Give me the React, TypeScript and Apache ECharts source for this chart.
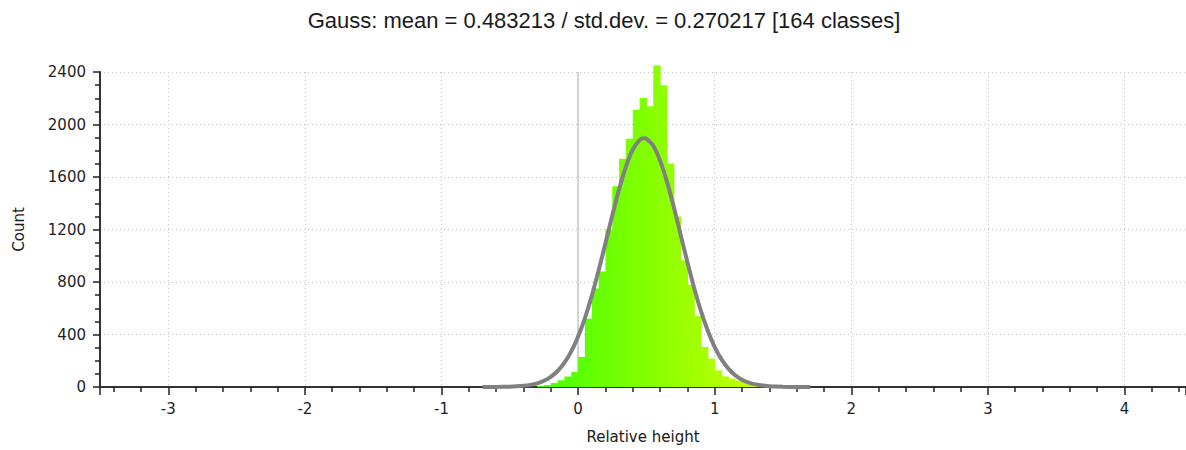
import React, { useEffect, useRef } from "react";
import * as echarts from "echarts";

// ---- data ----
const TITLE = "Gauss: mean = 0.483213 / std.dev. = 0.270217 [164 classes]";
const X_NAME = "Relative height";
const Y_NAME = "Count";

// histogram classes: width and left edge of the first non-empty class
const BIN_WIDTH = 0.05;
const BIN_START = -0.3;
const BIN_COUNTS = [
  8, 15, 30, 51, 80, 114, 229, 521, 750, 880, 1200, 1529, 1740, 1892, 2113,
  2202, 2140, 2450, 2299, 1702, 1300, 965, 780, 540, 305, 216, 127, 81, 64,
  51, 38, 26, 18, 14, 10, 8, 6, 4, 2,
];

// fitted Gauss curve
const GAUSS_X = [
  -0.7, -0.6, -0.5, -0.45, -0.4, -0.35, -0.3, -0.25, -0.2, -0.15, -0.1, -0.05,
  0, 0.05, 0.1, 0.15, 0.2, 0.25, 0.3, 0.35, 0.4, 0.45, 0.483, 0.5, 0.55, 0.6,
  0.65, 0.7, 0.75, 0.8, 0.85, 0.9, 0.95, 1.0, 1.05, 1.1, 1.15, 1.2, 1.25, 1.3,
  1.35, 1.4, 1.45, 1.5, 1.6, 1.7,
];
const GAUSS_Y = [
  0.1, 0.6, 2.5, 4.9, 9, 16.4, 28, 47.8, 78, 122, 185, 271, 384, 525, 694,
  887, 1095, 1307, 1507, 1679, 1808, 1881, 1895, 1891, 1838, 1725, 1565,
  1373, 1163, 952, 753, 576, 426, 304, 210, 140, 90, 56, 34, 20, 11, 6, 3.1,
  1.6, 0.4, 0.1,
];

const X_MIN = -3.5;
const X_MAX = 4.45;
const Y_MIN = 0;
const Y_MAX = 2400;
const Y_STEP = 400;

const histData = BIN_COUNTS.map((c, i) => {
  const x0 = +(BIN_START + i * BIN_WIDTH).toFixed(4);
  return [x0, +(x0 + BIN_WIDTH).toFixed(4), c];
});
const gaussData = GAUSS_X.map((x, i) => [x, GAUSS_Y[i]]);

function barColor(center: number): string {
  // green -> yellow-green along x
  let t = (center + 0.3) / 1.9;
  t = Math.max(0, Math.min(1, t));
  const r = Math.round(64 + t * 160);
  return `rgb(${r},255,0)`;
}

const tickFont = { fontFamily: "DejaVu Sans", fontSize: 15, color: "#1e1e1e" };
const axisLineStyle = { color: "#333333", width: 2 };
const tickLineStyle = { color: "#222222", width: 1.5 };
const gridLineStyle = { color: "#c4c4c4", type: [1, 3] as any, width: 1 };

const option: any = {
  animation: false,
  backgroundColor: "#ffffff",
  title: {
    text: TITLE,
    left: 604,
    top: 9,
    textAlign: "center",
    padding: 0,
    textStyle: {
      fontFamily: "Liberation Sans",
      fontSize: 22,
      fontWeight: "normal",
      color: "#1a1a1a",
    },
  },
  grid: { left: 100, right: 0, top: 72, bottom: 63, containLabel: false },
  xAxis: {
    type: "value",
    min: X_MIN,
    max: X_MAX,
    splitNumber: 8,
    name: X_NAME,
    nameLocation: "middle",
    nameGap: 42,
    nameTextStyle: { fontFamily: "DejaVu Sans", fontSize: 15, color: "#1a1a1a" },
    axisLine: { show: true, onZero: false, lineStyle: axisLineStyle },
    axisTick: { show: true, length: 8, lineStyle: tickLineStyle },
    minorTick: { show: true, splitNumber: 5, length: 5, lineStyle: tickLineStyle },
    axisLabel: {
      ...tickFont,
      margin: 14,
      showMinLabel: false,
      showMaxLabel: false,
      formatter: (v: number) => String(v),
    },
    splitLine: { show: true, lineStyle: gridLineStyle },
  },
  yAxis: {
    type: "value",
    min: Y_MIN,
    max: Y_MAX,
    interval: Y_STEP,
    name: Y_NAME,
    nameLocation: "middle",
    nameGap: 74,
    nameRotate: 90,
    nameTextStyle: { fontFamily: "DejaVu Sans", fontSize: 15, color: "#1a1a1a" },
    axisLine: { show: true, onZero: false, lineStyle: axisLineStyle },
    axisTick: { show: true, length: 7, lineStyle: tickLineStyle },
    minorTick: { show: true, splitNumber: 4, length: 5, lineStyle: tickLineStyle },
    axisLabel: { ...tickFont, margin: 14, formatter: (v: number) => String(v) },
    splitLine: { show: true, lineStyle: gridLineStyle },
  },
  series: [
    {
      type: "line",
      data: [],
      z: 1,
      silent: true,
      markLine: {
        z: 1,
        silent: true,
        symbol: ["none", "none"],
        label: { show: false },
        lineStyle: { color: "#c6c6c6", type: "solid", width: 1.5 },
        data: [{ xAxis: 0 }],
      },
    },
    {
      type: "custom",
      z: 2,
      clip: false,
      data: histData,
      renderItem: (params: any, api: any) => {
        const x0 = api.value(0);
        const x1 = api.value(1);
        const v = api.value(2);
        const pTop = api.coord([x0, v]);
        const pBot = api.coord([x1, 0]);
        return {
          type: "rect",
          shape: {
            x: pTop[0],
            y: pTop[1],
            width: pBot[0] - pTop[0] + 0.6,
            height: pBot[1] - pTop[1],
          },
          style: { fill: barColor((x0 + x1) / 2), stroke: null },
        };
      },
    },
    {
      type: "line",
      z: 4,
      data: gaussData,
      smooth: 0.3,
      showSymbol: false,
      symbol: "none",
      lineStyle: { color: "#808080", width: 4 },
    },
  ],
};

export default function App() {
  const ref = useRef<HTMLDivElement>(null);
  useEffect(() => {
    document.body.style.margin = "0";
    const chart = echarts.init(ref.current!, undefined, { renderer: "svg" });
    chart.setOption(option);
    return () => chart.dispose();
  }, []);
  return <div ref={ref} style={{ width: 1186, height: 450 }} />;
}
